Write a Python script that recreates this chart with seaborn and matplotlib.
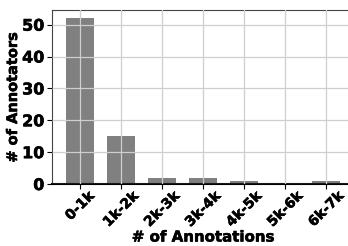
import pandas as pd
import seaborn as sns
import matplotlib.pyplot as plt
import matplotlib.patheffects as pe

# Data
bins = ['0-1k', '1k-2k', '2k-3k', '3k-4k', '4k-5k', '5k-6k', '6k-7k']
annotators = [52, 15, 2, 2, 1, 0, 1]

df = pd.DataFrame({'bin': bins, 'count': annotators})

plt.rcParams['font.family'] = ['DejaVu Sans']
plt.rcParams['font.weight'] = 'bold'
# slightly heavier text strokes, like the reference
thick = [pe.withStroke(linewidth=0.4, foreground='black')]

fig = plt.figure(figsize=(3.48, 2.46), dpi=100)
ax = fig.add_axes([52 / 348, 62 / 246, 302 / 348, 174 / 246])

sns.barplot(data=df, x='bin', y='count', color='#808080', saturation=1,
            width=0.7, ax=ax)

ax.set_xlim(-0.68, 6.68)
ax.set_ylim(0, 54.6)
ax.set_yticks([0, 10, 20, 30, 40, 50])
ax.grid(True, color='#cfcfcf', linewidth=0.9)
ax.set_axisbelow(False)

ax.set_xlabel('# of Annotations', fontsize=10.8, fontweight='bold', labelpad=0)
ax.set_ylabel('# of Annotators', fontsize=10.5, fontweight='bold', labelpad=1.5)
ax.tick_params(axis='x', labelsize=10, rotation=45, pad=0)
ax.tick_params(axis='y', labelsize=11.5, pad=2)
for lab in ax.get_xticklabels() + ax.get_yticklabels():
    lab.set_fontweight('bold')
    lab.set_path_effects(thick)
for lab in ax.get_xticklabels():
    lab.set_ha('center')
ax.xaxis.label.set_path_effects(thick)
ax.yaxis.label.set_path_effects(thick)

for side in ['left', 'top', 'right']:
    ax.spines[side].set_color('#444444')
ax.spines['bottom'].set_color('black')
ax.spines['bottom'].set_linewidth(1.5)

fig.savefig('out.png', dpi=100)
